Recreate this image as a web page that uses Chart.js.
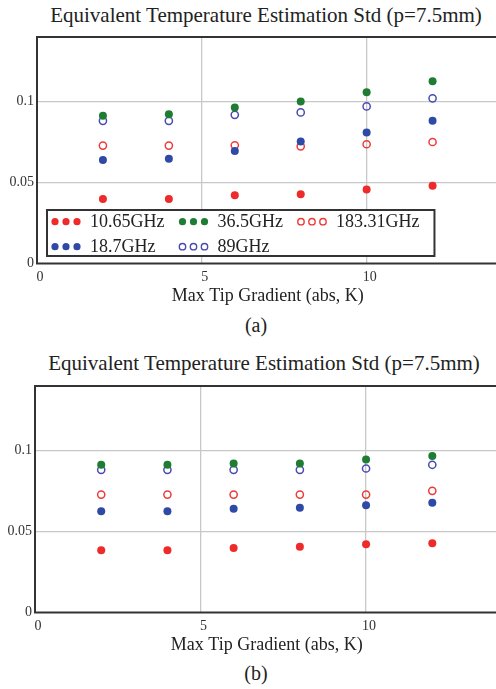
<!DOCTYPE html>
<html>
<head>
<meta charset="utf-8">
<script src="https://cdn.jsdelivr.net/npm/chart.js@4"></script>
<style>
  html, body { margin: 0; padding: 0; background: #fff; overflow: hidden; width: 496px; height: 689px; }
  .box { position: absolute; }
  .txt { position: absolute; font-family: "Liberation Serif", "Times New Roman", serif; color: #222; white-space: nowrap; text-align: center; }
  .title { font-size: 21px; line-height: 24px; }
  .cap { font-size: 20px; line-height: 24px; width: 512px; left: 0; }
</style>
</head>
<body>
<div class="txt title" style="left:0; width:532px; top:3px;">Equivalent Temperature Estimation Std (p=7.5mm)</div>
<div class="box" style="left:0; top:0;"><canvas id="chartA" width="504" height="310"></canvas></div>
<div class="txt cap" style="top:313px;">(a)</div>

<div class="txt title" style="left:0; width:528px; top:351px;">Equivalent Temperature Estimation Std (p=7.5mm)</div>
<div class="box" style="left:-2px; top:349px;"><canvas id="chartB" width="506" height="310"></canvas></div>
<div class="txt cap" style="top:661px;">(b)</div>

<script>
// x positions (max tip gradient, K)
const gradients = [2, 4, 6, 8, 10, 12];
const labels = ['10.65GHz', '18.7GHz', '36.5GHz', '89GHz', '183.31GHz'];

// (a) values
const a10 = [0.0399, 0.0399, 0.0422, 0.0428, 0.0457, 0.0480];
const a18 = [0.0639, 0.0648, 0.0695, 0.0754, 0.0810, 0.0882];
const a36 = [0.0913, 0.0922, 0.0965, 0.1002, 0.1058, 0.1127];
const a89 = [0.0882, 0.0882, 0.0919, 0.0934, 0.0971, 0.1021];
const a183 = [0.0729, 0.0729, 0.0731, 0.0724, 0.0737, 0.0751];

// (b) values
const b10 = [0.0384, 0.0384, 0.0399, 0.0407, 0.0422, 0.0428];
const b18 = [0.0626, 0.0626, 0.0642, 0.0648, 0.0663, 0.0678];
const b36 = [0.0913, 0.0913, 0.0921, 0.0921, 0.0946, 0.0967];
const b89 = [0.0882, 0.0882, 0.0882, 0.0882, 0.0890, 0.0913];
const b183 = [0.0729, 0.0729, 0.0729, 0.0729, 0.0729, 0.0752];

const styles = [
    { color: '#ee2a2a', open: false },
    { color: '#2f4aa6', open: false },
    { color: '#1f7d33', open: false },
    { color: '#4a4ab4', open: true },
    { color: '#ee3a3a', open: true },
];

const SERIF = '"Liberation Serif", "Times New Roman", serif';

function toPoints(vals) {
    return vals.map((v, i) => ({ x: gradients[i], y: v }));
}

function buildDatasets(series) {
    return series.map((vals, i) => {
        const s = styles[i];
        return {
            label: labels[i],
            data: toPoints(vals),
            pointStyle: 'circle',
            pointRadius: s.open ? 3.6 : 4,
            pointBackgroundColor: s.open ? 'rgba(0,0,0,0)' : s.color,
            pointBorderColor: s.color,
            pointBorderWidth: s.open ? 1.5 : 0,
            showLine: false,
        };
    });
}

// dark frame around the plot area
const frame = {
    id: 'frame',
    afterDatasetsDraw(chart) {
        const { ctx, chartArea: a } = chart;
        ctx.save();
        ctx.strokeStyle = '#333';
        ctx.lineWidth = 2;
        ctx.strokeRect(a.left, a.top, a.right - a.left, a.bottom - a.top);
        ctx.restore();
    }
};

// boxed legend inside the plot, 2 rows, column-major
const boxLegend = {
    id: 'boxLegend',
    afterDraw(chart, args, opts) {
        if (!opts.show) return;
        const { ctx, chartArea } = chart;
        const ds = chart.data.datasets;
        const rows = 2;
        const cols = Math.ceil(ds.length / rows);
        const left = chartArea.left + 10;
        const top = chartArea.bottom - 53.5;
        const bottom = chartArea.bottom - 7.5;
        ctx.save();
        ctx.font = '18px ' + SERIF;
        const colX = [];
        const colW = [];
        let x = left + 8;
        for (let c = 0; c < cols; c++) {
            let w = 0;
            for (let r = 0; r < rows; r++) {
                const d = ds[c * rows + r];
                if (d) w = Math.max(w, ctx.measureText(d.label).width);
            }
            colX.push(x);
            colW.push(w);
            x += 35 + w + 18;
        }
        const right = colX[cols - 1] + 35 + colW[cols - 1] + 15;
        ctx.fillStyle = '#fff';
        ctx.fillRect(left, top, right - left, bottom - top);
        ctx.strokeStyle = '#333';
        ctx.lineWidth = 2;
        ctx.strokeRect(left, top, right - left, bottom - top);

        ds.forEach((d, i) => {
            const c = Math.floor(i / rows), r = i % rows;
            const cy = top + 11.7 + r * 25;
            const s = styles[i];
            for (let k = 0; k < 3; k++) {
                const cx = colX[c] + k * 11;
                ctx.beginPath();
                ctx.arc(cx, cy, s.open ? 3.2 : 3.6, 0, Math.PI * 2);
                if (s.open) {
                    ctx.strokeStyle = s.color;
                    ctx.lineWidth = 1.4;
                    ctx.stroke();
                } else {
                    ctx.fillStyle = s.color;
                    ctx.fill();
                }
            }
            ctx.fillStyle = '#222';
            ctx.textBaseline = 'middle';
            ctx.textAlign = 'left';
            ctx.fillText(d.label, colX[c] + 35, cy + 1);
        });
        ctx.restore();
    }
};

function makeChart(id, series, showLegend) {
    const ctx = document.getElementById(id).getContext('2d');
    return new Chart(ctx, {
        type: 'scatter',
        data: { datasets: buildDatasets(series) },
        options: {
            responsive: false,
            animation: false,
            devicePixelRatio: 1,
            layout: { padding: { top: 37, left: 0, right: 0, bottom: 0 } },
            plugins: {
                legend: { display: false },
                title: { display: false },
                tooltip: { enabled: false },
                boxLegend: { show: showLegend },
            },
            scales: {
                x: {
                    type: 'linear',
                    min: 0,
                    max: 14,
                    border: { display: false },
                    grid: {
                        color: (c) => c.tick && c.tick.value === 0 ? 'rgba(0,0,0,0)' : '#c8c8c8',
                        lineWidth: 1.3,
                        drawTicks: false,
                    },
                    ticks: {
                        stepSize: 5,
                        includeBounds: false,
                        padding: 5,
                        labelOffset: 3,
                        color: '#333',
                        font: { family: SERIF, size: 14 },
                    },
                    title: {
                        display: true,
                        text: 'Max Tip Gradient (abs, K)',
                        color: '#222',
                        font: { family: SERIF, size: 18 },
                        padding: { top: 0, bottom: 2.5 },
                    },
                    afterFit: (scale) => { scale.height = 46.5; },
                },
                y: {
                    type: 'linear',
                    min: 0,
                    max: 0.14,
                    border: { display: false },
                    grid: {
                        color: (c) => c.tick && c.tick.value === 0 ? 'rgba(0,0,0,0)' : '#c8c8c8',
                        lineWidth: 1.3,
                        drawTicks: false,
                    },
                    ticks: {
                        stepSize: 0.05,
                        includeBounds: false,
                        padding: 3,
                        color: '#333',
                        font: { family: SERIF, size: 14 },
                        callback: (v) => String(+v.toFixed(3)),
                    },
                    afterFit: (scale) => { scale.width = 37; },
                },
            },
        },
        plugins: [frame, boxLegend],
    });
}

makeChart('chartA', [a10, a18, a36, a89, a183], true);
makeChart('chartB', [b10, b18, b36, b89, b183], false);
</script>
</body>
</html>
